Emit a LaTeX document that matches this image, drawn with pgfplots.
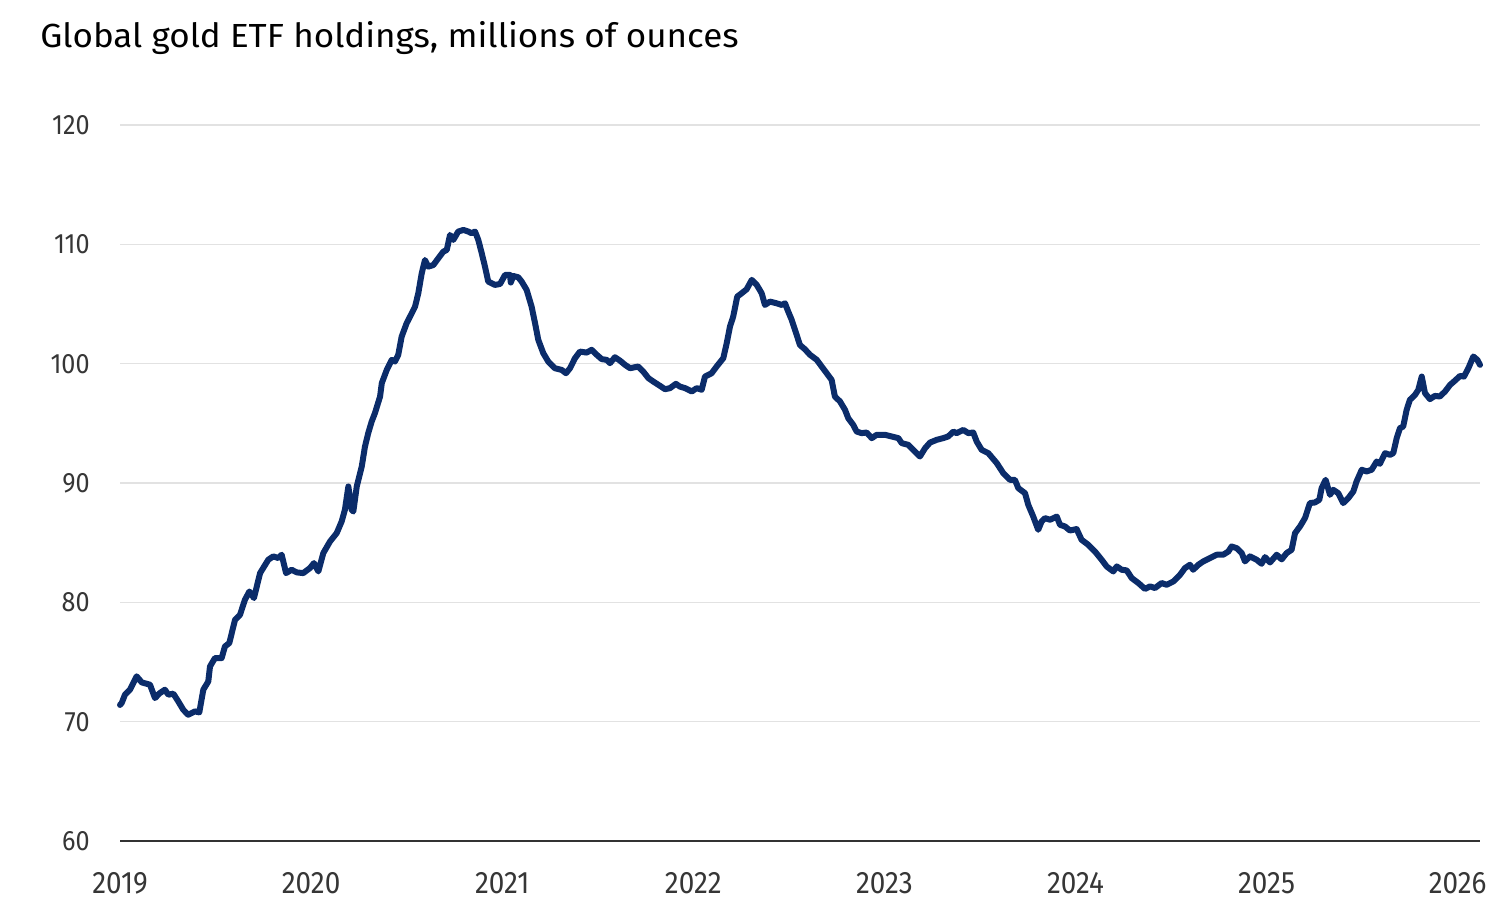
\documentclass[border=0pt]{standalone}
\usepackage{pgfplots}
\pgfplotsset{compat=1.18}
\usepackage{pgfplotstable}
\usepackage{fontspec}
\setmainfont{Fira Sans}
\newfontfamily\tickfont[FakeStretch=0.9]{Fira Sans}
\newfontfamily\titlefont[FakeStretch=1.048]{Fira Sans}
\definecolor{navy}{HTML}{0B2C6A}
\definecolor{gridc}{HTML}{E2E2E2}
\definecolor{tickc}{HTML}{363636}

\pgfplotstableread{
year value
2019.000 71.40
2019.009 71.57
2019.026 72.26
2019.052 72.68
2019.087 73.80
2019.114 73.29
2019.157 73.10
2019.183 71.98
2019.209 72.40
2019.235 72.68
2019.253 72.26
2019.279 72.35
2019.305 71.70
2019.331 71.00
2019.357 70.58
2019.392 70.86
2019.415 70.78
2019.436 72.68
2019.462 73.37
2019.471 74.63
2019.497 75.33
2019.532 75.33
2019.549 76.30
2019.572 76.59
2019.602 78.54
2019.628 78.96
2019.654 80.22
2019.677 80.91
2019.701 80.36
2019.733 82.45
2019.776 83.57
2019.802 83.85
2019.828 83.71
2019.846 83.99
2019.869 82.45
2019.898 82.73
2019.925 82.51
2019.959 82.45
2019.994 82.87
2020.015 83.29
2020.038 82.59
2020.064 84.13
2020.099 85.10
2020.134 85.80
2020.160 86.78
2020.177 87.76
2020.195 89.71
2020.212 87.76
2020.221 87.61
2020.239 89.71
2020.265 91.38
2020.282 93.06
2020.299 94.18
2020.317 95.15
2020.334 95.85
2020.361 97.25
2020.370 98.37
2020.396 99.48
2020.422 100.32
2020.439 100.18
2020.456 100.74
2020.474 102.27
2020.500 103.39
2020.518 103.95
2020.544 104.78
2020.561 105.90
2020.579 107.58
2020.596 108.69
2020.613 108.13
2020.640 108.27
2020.666 108.84
2020.692 109.39
2020.710 109.53
2020.727 110.79
2020.744 110.37
2020.770 111.07
2020.797 111.21
2020.823 111.07
2020.840 110.93
2020.858 111.07
2020.875 110.37
2020.893 109.25
2020.910 108.13
2020.927 106.88
2020.962 106.60
2020.989 106.68
2021.015 107.44
2021.041 107.44
2021.045 106.80
2021.058 107.35
2021.084 107.24
2021.102 106.88
2021.128 106.18
2021.154 104.78
2021.172 103.39
2021.189 101.99
2021.215 100.88
2021.241 100.18
2021.276 99.62
2021.311 99.48
2021.334 99.20
2021.355 99.62
2021.381 100.46
2021.407 101.01
2021.442 100.93
2021.468 101.16
2021.495 100.74
2021.521 100.38
2021.547 100.32
2021.564 100.04
2021.590 100.54
2021.616 100.26
2021.643 99.90
2021.669 99.62
2021.712 99.76
2021.738 99.34
2021.765 98.79
2021.791 98.50
2021.826 98.14
2021.852 97.86
2021.878 97.95
2021.909 98.31
2021.930 98.08
2021.957 97.95
2021.992 97.67
2022.018 97.95
2022.044 97.81
2022.061 98.92
2022.096 99.20
2022.122 99.76
2022.157 100.46
2022.175 101.72
2022.192 103.11
2022.209 103.95
2022.230 105.62
2022.253 105.90
2022.279 106.23
2022.306 107.02
2022.332 106.60
2022.358 105.90
2022.375 104.92
2022.401 105.20
2022.436 105.06
2022.463 104.92
2022.480 105.06
2022.497 104.36
2022.515 103.67
2022.541 102.41
2022.558 101.57
2022.584 101.21
2022.611 100.74
2022.646 100.32
2022.672 99.76
2022.698 99.20
2022.724 98.64
2022.741 97.25
2022.768 96.83
2022.794 96.13
2022.811 95.43
2022.837 94.87
2022.855 94.31
2022.881 94.18
2022.907 94.23
2022.934 93.76
2022.960 94.04
2023.003 94.04
2023.038 93.90
2023.073 93.76
2023.091 93.34
2023.125 93.20
2023.151 92.78
2023.186 92.22
2023.213 92.92
2023.239 93.39
2023.274 93.62
2023.308 93.76
2023.334 93.90
2023.361 94.31
2023.378 94.18
2023.413 94.45
2023.439 94.18
2023.465 94.23
2023.483 93.48
2023.509 92.78
2023.544 92.50
2023.588 91.67
2023.622 90.83
2023.657 90.27
2023.683 90.27
2023.701 89.57
2023.736 89.15
2023.753 88.17
2023.779 87.19
2023.805 86.08
2023.823 86.78
2023.840 87.06
2023.867 86.92
2023.902 87.19
2023.919 86.50
2023.945 86.36
2023.971 86.02
2024.006 86.14
2024.032 85.24
2024.067 84.82
2024.102 84.26
2024.137 83.57
2024.163 83.01
2024.198 82.59
2024.216 83.01
2024.242 82.73
2024.268 82.68
2024.294 82.04
2024.329 81.62
2024.364 81.12
2024.390 81.34
2024.416 81.20
2024.451 81.62
2024.477 81.47
2024.512 81.75
2024.547 82.31
2024.573 82.87
2024.599 83.15
2024.616 82.73
2024.643 83.15
2024.669 83.43
2024.704 83.71
2024.739 83.99
2024.773 83.99
2024.800 84.26
2024.817 84.68
2024.844 84.54
2024.870 84.13
2024.887 83.43
2024.913 83.85
2024.948 83.57
2024.974 83.23
2024.992 83.79
2025.018 83.34
2025.053 83.99
2025.079 83.60
2025.105 84.13
2025.131 84.40
2025.149 85.80
2025.175 86.36
2025.201 87.06
2025.227 88.32
2025.253 88.37
2025.276 88.59
2025.288 89.57
2025.309 90.27
2025.332 89.01
2025.349 89.43
2025.375 89.15
2025.401 88.32
2025.428 88.74
2025.454 89.29
2025.471 90.13
2025.498 91.11
2025.524 90.97
2025.550 91.11
2025.576 91.80
2025.593 91.61
2025.620 92.50
2025.646 92.36
2025.663 92.50
2025.681 93.76
2025.698 94.60
2025.715 94.73
2025.733 96.13
2025.750 96.97
2025.777 97.39
2025.794 97.81
2025.812 98.92
2025.829 97.53
2025.855 97.03
2025.881 97.30
2025.907 97.25
2025.934 97.67
2025.960 98.22
2025.986 98.58
2026.012 98.97
2026.033 98.92
2026.056 99.62
2026.082 100.60
2026.103 100.32
2026.117 99.90
}\gold

\begin{document}
\begin{tikzpicture}
\useasboundingbox (-60pt,-38.5pt) rectangle (691pt,420.5pt);
\begin{axis}[
  at={(0,0)}, anchor=south west,
  scale only axis,
  width=680pt, height=358pt,
  xmin=2019, xmax=2026.117,
  ymin=60, ymax=120,
  xtick={2019,2020,2021,2022,2023,2024,2025,2026},
  ytick={60,70,80,90,100,110,120},
  ymajorgrids,
  grid style={draw=gridc, line width=0.6pt},
  axis line style={draw=none},
  tick style={draw=none},
  /pgf/number format/assume math mode=true,
  xticklabel style={/pgf/number format/1000 sep=, inner sep=0pt, anchor=north, yshift=-15.4pt, font=\tickfont\fontsize{15.5}{18}\selectfont, text=tickc},
  yticklabel style={inner sep=0pt, anchor=east, xshift=-15pt, font=\tickfont\fontsize{14}{16}\selectfont, text=tickc},
  clip=false,
]
\addplot[navy, line width=3pt, line join=round, line cap=round] table[x=year, y=value] {\gold};
\draw[black!80, line width=0.7pt] (axis cs:2019,60) -- (axis cs:2026.117,60);
\end{axis}
\node[anchor=base west, inner sep=0pt, font=\titlefont\fontsize{16.7}{20}\selectfont] at (-40pt,396.5pt) {Global gold ETF holdings, millions of ounces};
\end{tikzpicture}
\end{document}
